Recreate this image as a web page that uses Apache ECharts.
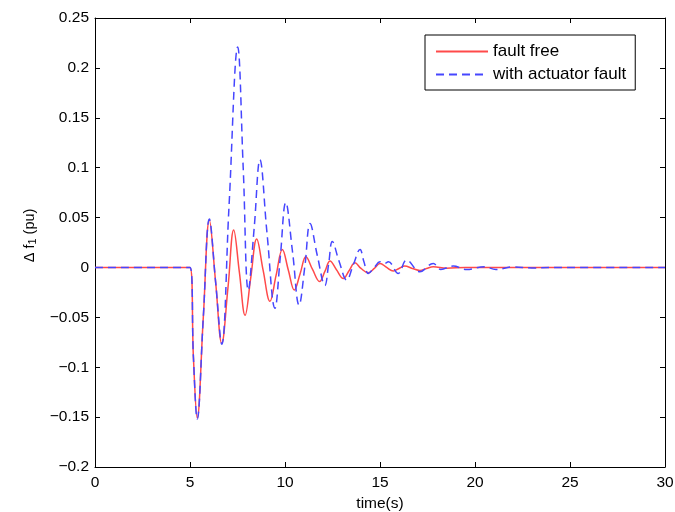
<!DOCTYPE html>
<html>
<head>
<meta charset="UTF-8">
<title>delta f1</title>
<style>
  body { margin: 0; padding: 0; background: #fff; }
  #chart { width: 675px; height: 512px; }
</style>
</head>
<body>
<div id="chart"></div>
<script src="https://cdn.jsdelivr.net/npm/echarts@6/dist/echarts.min.js"></script>
<script>
// [time (s), delta f1 (pu)]
var faultFree = [
  [0, 0], [5.0, 0], [5.18, -0.09], [5.38, -0.151], [5.7, -0.05], [6.02, 0.0475],
  [6.35, -0.015], [6.67, -0.076], [7.0, -0.02], [7.3, 0.0375], [7.6, -0.005],
  [7.9, -0.048], [8.2, -0.01], [8.51, 0.0285], [8.85, -0.003], [9.21, -0.034],
  [9.53, -0.008], [9.86, 0.018], [10.18, -0.003], [10.49, -0.0227], [10.8, -0.006],
  [11.1, 0.0107], [11.45, -0.002], [11.82, -0.014], [12.1, -0.004], [12.37, 0.0064],
  [12.7, -0.002], [13.07, -0.011], [13.38, -0.003], [13.68, 0.0047], [14.0, -0.001],
  [14.38, -0.0053], [14.7, -0.001], [15.0, 0.004], [15.35, 0], [15.7, -0.0036],
  [16.0, -0.001], [16.3, 0.0014], [16.7, -0.001], [17.1, -0.003], [17.45, -0.001],
  [17.8, 0.0007], [18.5, -0.0008], [19.5, 0], [30, 0]
];
var actuatorFault = [
  [0, 0], [5.0, 0], [5.18, -0.09], [5.38, -0.152], [5.7, -0.05], [6.02, 0.0485],
  [6.35, -0.015], [6.67, -0.077], [7.05, 0.06], [7.51, 0.221], [7.8, 0.1],
  [8.07, -0.023], [8.38, 0.04], [8.68, 0.108], [9.05, 0.035], [9.47, -0.041],
  [9.75, 0.01], [10.04, 0.065], [10.4, 0.015], [10.74, -0.0377], [11.05, 0.002],
  [11.32, 0.044], [11.7, 0.012], [12.1, -0.018], [12.3, 0.004], [12.49, 0.026],
  [12.85, 0.006], [13.25, -0.0126], [13.6, 0.003], [13.95, 0.018], [14.15, 0.006],
  [14.39, -0.006], [14.7, 0], [15.0, 0.0057], [15.22, 0.004], [15.44, 0.0057],
  [15.96, -0.006], [16.4, 0.0074], [17.1, -0.0043], [17.8, 0.004], [18.2, -0.002],
  [18.85, 0.0014], [19.56, -0.002], [20.5, 0.0007], [21.1, -0.002], [22, 0.0005],
  [23, -0.0005], [24, 0], [30, 0]
];
var seriesNames = ['fault free', 'with actuator fault'];

var font = "'Liberation Sans', Arial, sans-serif";

function yFmt(v) {
  var s = String(parseFloat(v.toFixed(2)));
  return s.replace('-', '\u2212');
}

var chart = echarts.init(document.getElementById('chart'));
var tickIn = { show: true, inside: true, length: 5, lineStyle: { color: '#000' } };
var lineBlack = { show: true, onZero: false, lineStyle: { color: '#000', width: 1 } };

chart.setOption({
  animation: false,
  backgroundColor: '#fff',
  textStyle: { fontFamily: font },
  grid: { left: 95, right: 10, top: 18, bottom: 45, containLabel: false, outerBoundsMode: 'none' },
  legend: {
    data: seriesNames,
    orient: 'vertical',
    left: 425, top: 35,
    padding: [8, 9, 7, 10],
    itemGap: 6,
    itemWidth: 52, itemHeight: 14,
    borderColor: '#000', borderWidth: 1,
    backgroundColor: '#fff',
    itemStyle: { opacity: 0 },
    textStyle: { fontSize: 17, color: '#000', fontFamily: font }
  },
  xAxis: [{
    type: 'value', min: 0, max: 30, interval: 5,
    name: 'time(s)', nameLocation: 'middle', nameGap: 28,
    nameTextStyle: { fontSize: 15.5, color: '#000', fontFamily: font },
    axisLine: lineBlack, axisTick: tickIn,
    axisLabel: { fontSize: 15.5, color: '#000', margin: 8, fontFamily: font },
    splitLine: { show: false }
  }, {
    type: 'value', min: 0, max: 30, interval: 5, position: 'top',
    axisLine: lineBlack, axisTick: tickIn, axisLabel: { show: false },
    splitLine: { show: false }
  }],
  yAxis: [{
    type: 'value', min: -0.2, max: 0.25, interval: 0.05,
    name: '\u0394 f{sub|1} (pu)', nameLocation: 'middle', nameGap: 46, nameRotate: 90,
    nameTextStyle: {
      fontSize: 14.5, color: '#000', fontFamily: font, padding: [0, 0, 0, 14],
      rich: { sub: { fontSize: 11, verticalAlign: 'bottom', padding: [6, 0, 0, 0] } }
    },
    axisLine: lineBlack, axisTick: tickIn,
    axisLabel: { fontSize: 15.5, color: '#000', margin: 6, formatter: yFmt, fontFamily: font },
    splitLine: { show: false }
  }, {
    type: 'value', min: -0.2, max: 0.25, interval: 0.05, position: 'right',
    axisLine: lineBlack, axisTick: tickIn, axisLabel: { show: false },
    splitLine: { show: false }
  }],
  series: [{
    name: seriesNames[0], type: 'line', data: faultFree,
    smooth: 0.4, showSymbol: false, symbol: 'none',
    lineStyle: { color: '#ff4a4a', width: 1.5 },
    itemStyle: { color: '#ff4a4a' }
  }, {
    name: seriesNames[1], type: 'line', data: actuatorFault,
    smooth: 0.4, showSymbol: false, symbol: 'none',
    lineStyle: { color: '#4646ff', width: 1.5, type: [8, 5] },
    itemStyle: { color: '#4646ff' }
  }]
});
</script>
</body>
</html>
